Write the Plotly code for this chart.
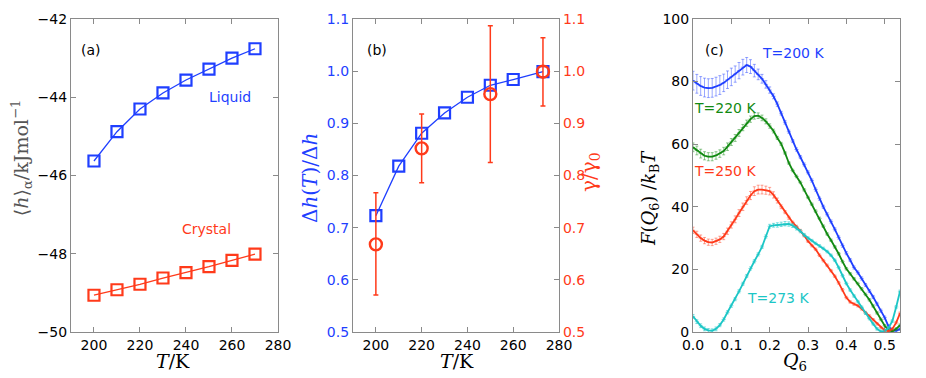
import plotly.graph_objects as go

# panel (a): enthalpy of liquid and crystal
T_a = [200, 210, 220, 230, 240, 250, 260, 270]
h_liquid = [-45.63, -44.88, -44.30, -43.89, -43.56, -43.28, -43.00, -42.76]
h_crystal = [-49.06, -48.92, -48.78, -48.62, -48.48, -48.33, -48.17, -48.01]

# panel (b)
T_dh = [200, 210, 220, 230, 240, 250, 260, 273]
dh_ratio = [0.723, 0.818, 0.881, 0.920, 0.950, 0.973, 0.984, 0.999]
T_gamma = [200, 220, 250, 273]
gamma_ratio = [0.668, 0.852, 0.956, 0.999]
gamma_err_plus = [0.099, 0.066, 0.131, 0.065]
gamma_err_minus = [0.097, 0.066, 0.131, 0.066]

# panel (c): free energy profiles
Q6 = [i / 100 for i in range(55)]
F_200 = [80.3, 79.3, 78.6, 78.1, 77.9, 78.0, 78.4, 78.9, 79.6, 80.6,
         81.5, 82.4, 83.5, 84.6, 85.3, 84.8, 83.5, 82.3, 80.9, 79.1,
         77.3, 75.3, 72.8, 69.9, 67.0, 64.0, 61.0, 58.3, 55.9, 53.5,
         51.0, 48.4, 45.5, 42.6, 40.0, 37.6, 35.3, 32.8, 30.2, 27.6,
         25.2, 23.0, 20.6, 19.0, 17.1, 15.0, 13.1, 11.2, 9.0, 6.8,
         4.6, 1.8, 0.5, 0.4, 1.0]
F_220 = [59.0, 58.0, 57.0, 56.3, 56.0, 56.0, 56.4, 57.0, 57.8, 59.2,
         60.7, 62.0, 63.6, 65.3, 66.7, 68.0, 69.0, 69.1, 68.4, 67.3,
         65.8, 64.2, 62.0, 60.1, 57.2, 54.0, 51.6, 49.7, 47.8, 45.4,
         43.0, 40.8, 38.6, 36.3, 33.8, 31.3, 29.3, 27.2, 25.0, 22.5,
         20.2, 18.6, 17.0, 15.5, 13.8, 12.0, 10.3, 8.3, 6.1, 4.0,
         2.0, 0.6, 0.2, 1.0, 2.2]
F_250 = [32.5, 31.2, 30.0, 29.2, 28.7, 28.6, 29.0, 29.6, 30.5, 32.2,
         34.2, 36.0, 38.0, 40.0, 42.0, 43.6, 45.0, 45.5, 45.5, 45.3,
         45.0, 43.8, 42.0, 40.0, 38.3, 36.5, 35.0, 33.7, 32.4, 30.8,
         29.0, 27.6, 26.4, 24.5, 22.8, 21.3, 19.6, 17.8, 15.7, 13.5,
         11.0, 9.6, 8.9, 8.4, 7.4, 6.2, 5.1, 3.9, 2.6, 1.4,
         0.5, 0.3, 1.0, 3.0, 6.0]
F_273 = [5.0, 3.3, 2.0, 1.0, 0.5, 0.4, 1.0, 2.2, 4.0, 6.3,
         8.4, 10.5, 13.0, 15.4, 17.9, 20.3, 22.6, 24.8, 27.2, 30.5,
         33.8, 34.1, 34.2, 34.4, 34.6, 34.5, 34.0, 33.2, 32.2, 31.0,
         30.0, 29.2, 28.3, 27.5, 26.7, 25.7, 24.5, 22.9, 20.6, 18.0,
         15.5, 13.4, 11.5, 9.7, 7.9, 6.0, 4.3, 2.6, 1.0, 0.2,
         0.3, 1.3, 3.5, 8.0, 13.0]
err_200 = [3.0, 3.0, 3.0, 3.0, 3.0, 3.0, 3.0, 3.0, 2.8, 2.8,
           2.8, 2.6, 2.6, 2.5, 2.4, 2.2, 2.0, 1.7, 1.4, 1.2,
           1.0, 0.8, 0.7, 0.6, 0.6, 0.5, 0.5, 0.5, 0.5, 0.5,
           0.5, 0.5, 0.5, 0.5, 0.5, 0.5, 0.5, 0.5, 0.5, 0.5,
           0.5, 0.5, 0.5, 0.5, 0.5, 0.5, 0.5, 0.5, 0.5, 0.5,
           0.5, 0.5, 0.5, 0.5, 0.5]
err_220 = [1.4, 1.4, 1.4, 1.3, 1.3, 1.3, 1.2, 1.2, 1.2, 1.2,
           1.1, 1.1, 1.1, 1.0, 1.0, 1.0, 1.0, 0.9, 0.9, 0.8,
           0.7, 0.6, 0.5, 0.5, 0.4, 0.4, 0.4, 0.4, 0.4, 0.4,
           0.4, 0.4, 0.4, 0.4, 0.4, 0.4, 0.4, 0.4, 0.4, 0.4,
           0.4, 0.4, 0.4, 0.4, 0.4, 0.4, 0.4, 0.4, 0.4, 0.4,
           0.4, 0.4, 0.4, 0.4, 0.4]
err_250 = [1.0, 1.0, 1.0, 1.0, 1.0, 1.0, 1.0, 1.0, 1.0, 1.0,
           1.0, 1.1, 1.1, 1.2, 1.2, 1.3, 1.4, 1.4, 1.4, 1.3,
           1.2, 1.0, 0.8, 0.6, 0.5, 0.5, 0.4, 0.4, 0.4, 0.4,
           0.4, 0.4, 0.4, 0.4, 0.4, 0.4, 0.4, 0.4, 0.4, 0.4,
           0.4, 0.4, 0.4, 0.4, 0.4, 0.4, 0.4, 0.4, 0.4, 0.4,
           0.4, 0.4, 0.4, 0.4, 0.4]
err_273 = [0.6, 0.6, 0.6, 0.6, 0.6, 0.6, 0.6, 0.5, 0.5, 0.5,
           0.5, 0.5, 0.5, 0.5, 0.5, 0.5, 0.5, 0.5, 0.5, 0.5,
           0.6, 0.6, 0.7, 0.7, 0.7, 0.7, 0.6, 0.6, 0.5, 0.5,
           0.4, 0.4, 0.4, 0.4, 0.4, 0.4, 0.4, 0.4, 0.4, 0.4,
           0.4, 0.4, 0.4, 0.4, 0.4, 0.4, 0.4, 0.4, 0.4, 0.4,
           0.4, 0.4, 0.4, 0.4, 0.4]

BLUE = '#1f3fff'
RED = '#ff3a1a'
GREEN = '#128a12'
CYAN = '#1cc6c6'
FRAME = '#8a8a8a'
SERIF = 'DejaVu Serif'
SANS = 'DejaVu Sans'

fig = go.Figure()

# (a)
fig.add_trace(go.Scatter(x=T_a, y=h_liquid, mode='lines+markers', xaxis='x', yaxis='y',
                         line=dict(color=BLUE, width=1.3),
                         marker=dict(symbol='square-open', size=11, color=BLUE, line=dict(width=2.2))))
fig.add_trace(go.Scatter(x=T_a, y=h_crystal, mode='lines+markers', xaxis='x', yaxis='y',
                         line=dict(color=RED, width=1.3),
                         marker=dict(symbol='square-open', size=11, color=RED, line=dict(width=2.2))))

# (b)
fig.add_trace(go.Scatter(x=T_dh, y=dh_ratio, mode='lines+markers', xaxis='x2', yaxis='y2',
                         line=dict(color=BLUE, width=1.3),
                         marker=dict(symbol='square-open', size=11, color=BLUE, line=dict(width=2.2))))
fig.add_trace(go.Scatter(x=T_gamma, y=gamma_ratio, mode='markers', xaxis='x2', yaxis='y3',
                         error_y=dict(type='data', array=gamma_err_plus, arrayminus=gamma_err_minus,
                                      color=RED, thickness=1.5, width=2.5),
                         marker=dict(symbol='circle-open', size=12, color=RED, line=dict(width=2.4))))

# (c)
for F, err, col, fade in [(F_200, err_200, BLUE, 'rgba(31,63,255,0.45)'),
                          (F_220, err_220, GREEN, 'rgba(18,138,18,0.45)'),
                          (F_250, err_250, RED, 'rgba(255,58,26,0.45)'),
                          (F_273, err_273, CYAN, 'rgba(28,198,198,0.55)')]:
    fig.add_trace(go.Scatter(x=Q6, y=F, mode='lines+markers', xaxis='x3', yaxis='y4',
                             line=dict(color=col, width=1.8),
                             error_y=dict(type='data', array=err, color=fade, thickness=1, width=1.5),
                             marker=dict(symbol='line-ew', size=3, color=fade, line=dict(width=1, color=fade))))

ax_common = dict(showline=True, linecolor=FRAME, linewidth=1.2, mirror='ticks', ticks='inside',
                 ticklen=5, tickcolor=FRAME, showgrid=False, zeroline=False, automargin=False,
                 tickfont=dict(family=SANS, size=14, color='black'))

# figure is 918x370, page body margin adds 8px offset
yb, yt = 0.1243, 0.9703
fig.update_layout(
    width=918, height=370, margin=dict(l=0, r=0, t=0, b=0),
    plot_bgcolor='white', paper_bgcolor='white', showlegend=False,
    xaxis=dict(ax_common, domain=[0.0686, 0.2941], range=[190, 280], dtick=20, anchor='y'),
    yaxis=dict(ax_common, domain=[yb, yt], range=[-50, -42], dtick=2, anchor='x'),
    xaxis2=dict(ax_common, domain=[0.3758, 0.6002], range=[190, 280], dtick=20, anchor='y2'),
    yaxis2=dict(ax_common, domain=[yb, yt], range=[0.5, 1.1], dtick=0.1, tickformat='.1f', anchor='x2',
                mirror=False, tickfont=dict(family=SANS, size=14, color=BLUE)),
    yaxis3=dict(ax_common, range=[0.5, 1.1], dtick=0.1, tickformat='.1f', overlaying='y2', side='right',
                anchor='x2', mirror=False, tickfont=dict(family=SANS, size=14, color=RED)),
    xaxis3=dict(ax_common, domain=[0.7462, 0.9717], range=[0, 0.54], dtick=0.1, tickformat='.1f', anchor='y4'),
    yaxis4=dict(ax_common, domain=[yb, yt], range=[0, 100], dtick=20, anchor='x3'),
)

# axis titles
titles = [
    ('<i>T</i>/K', 0.1797, 0.045, 0, 'black', 19),
    ('<i>T</i>/K', 0.4891, 0.045, 0, 'black', 19),
    ('<i>Q</i><sub>6</sub>', 0.8573, 0.045, 0, 'black', 19),
    ('⟨<i>h</i>⟩<sub>α</sub>/kJmol<sup>−1</sup>', 0.0155, 0.5946, -90, '#555555', 19),
    ('Δ<i>h</i>(<i>T</i>)/Δ<i>h</i>', 0.329, 0.5405, -90, BLUE, 20),
    ('γ/γ<sub>0</sub>', 0.634, 0.557, -90, RED, 20),
    ('<i>F</i>(<i>Q</i><sub>6</sub>) /<i>k</i><sub>B</sub><i>T</i>', 0.6993, 0.4865, -90, 'black', 18),
]
for text, x, y, ang, col, size in titles:
    fig.add_annotation(text=text, xref='paper', yref='paper', x=x, y=y, showarrow=False,
                       textangle=ang, xanchor='center', yanchor='middle',
                       font=dict(family=SERIF, size=size, color=col))

notes = [
    ('(a)', 'paper', 'paper', 0.0773, 0.9135, 'black', 'left'),
    ('Liquid', 'x', 'y', 259, -44.0, BLUE, 'center'),
    ('Crystal', 'x', 'y', 249, -47.37, RED, 'center'),
    ('(b)', 'paper', 'paper', 0.3889, 0.9135, 'black', 'left'),
    ('(c)', 'paper', 'paper', 0.7568, 0.9135, 'black', 'left'),
    ('T=200 K', 'x3', 'y4', 0.261, 89, BLUE, 'center'),
    ('T=220 K', 'x3', 'y4', 0.083, 71.6, GREEN, 'center'),
    ('T=250 K', 'x3', 'y4', 0.083, 51.4, RED, 'center'),
    ('T=273 K', 'x3', 'y4', 0.222, 10.9, CYAN, 'center'),
]
for text, xr, yr, x, y, col, xa in notes:
    fig.add_annotation(text=text, xref=xr, yref=yr, x=x, y=y, showarrow=False, xanchor=xa,
                       font=dict(family=SANS, size=14, color=col))

fig.write_html("out.html")
